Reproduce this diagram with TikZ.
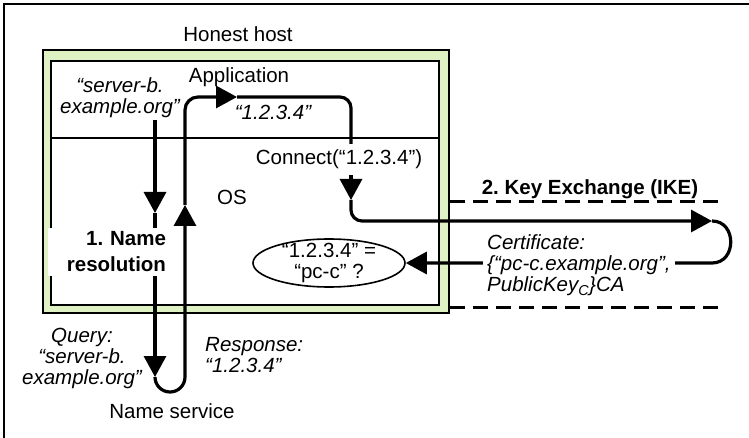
\documentclass[tikz,border=0pt]{standalone}
\usepackage{fontspec}
\setmainfont{Liberation Sans}
\usetikzlibrary{arrows.meta,shapes.geometric}
\pgfdeclarelayer{back}\pgfdeclarelayer{front}\pgfsetlayers{back,main,front}
\definecolor{hostgreen}{RGB}{222,242,196}
\newcommand\dfont{\fontsize{20.5pt}{21pt}\selectfont}
\frenchspacing
\begin{document}
\begin{tikzpicture}[x=1pt,y=-1pt,
  txt/.style={font=\dfont, inner sep=2pt},
  itx/.style={font=\dfont\itshape, inner sep=2pt},
  bld/.style={font=\dfont\bfseries, inner sep=2pt},
  ln/.style={line width=3.2pt, line cap=butt},
  arr/.style={ln, -{Triangle[length=21pt,width=22pt]}},
  dashln/.style={line width=3pt, dash pattern=on 15pt off 8pt},
  boxln/.style={draw, inner sep=0pt, anchor=north west},
]
\useasboundingbox (0,0) rectangle (749,438);
\begin{pgfonlayer}{back}
  \draw[line width=2.5pt] (4,440) -- (4,4) -- (751,4);
  \node[boxln, line width=2.4pt, fill=hostgreen, minimum width=406pt, minimum height=263pt] (host) at (42,49) {};
  \node[boxln, line width=1.6pt, fill=white, minimum width=388pt, minimum height=244pt] (inner) at (50,60) {};
  \coordinate (dv) at (0,138);
  \draw[line width=1.4pt] (inner.west |- dv) -- (inner.east |- dv);
  \coordinate (d1) at (0,202);
  \coordinate (d2) at (0,307);
  \coordinate (dend) at (722,0);
  \draw[dashln] (host.east |- d1) -- (dend |- d1);
  \draw[dashln] (host.east |- d2) -- (dend |- d2);
\end{pgfonlayer}

\begin{pgfonlayer}{front}
  \node[fill=white, text width=114pt, align=right, inner xsep=4pt, inner ysep=4pt,
        font=\fontsize{20.5pt}{25.5pt}\selectfont\bfseries] (nr) at (109,251.6) {1. Name\\resolution};
  \node[itx, fill=white, align=left, anchor=west, inner sep=4pt] (cert) at (483,265.6)
        {Certificate:\\\{“pc-c.example.org”,\\PublicKey\textsubscript{C}\}CA};
\end{pgfonlayer}

\node[txt, anchor=base] (hh) at (238,42) {Honest host};
\node[txt, anchor=base] (app) at (239,83) {Application};
\node[itx, align=center] (srv) at (120,97.6) {“server-b.\\example.org”};
\node[itx, anchor=base] (ip1) at (273,120) {“1.2.3.4”};
\node[txt, anchor=base, inner ysep=6pt] (con) at (339,165) {Connect(“1.2.3.4”)};
\node[txt, anchor=base] (os) at (232,205) {OS};
\node[bld, anchor=base] (ike) at (590,195) {2. Key Exchange (IKE)};
\node[ellipse, draw, line width=1.6pt, minimum width=152pt, minimum height=48pt, inner sep=0pt, font=\fontsize{20.5pt}{20pt}\selectfont] (ell) at (329,263)
  {\raisebox{-6pt}[0pt][0pt]{\begin{tabular}{@{}c@{}}“1.2.3.4” =\\“pc-c” ?\end{tabular}}};
\node[itx, align=center] (qry) at (82,358.7) {Query:\\“server-b.\\example.org”};
\node[itx, align=left, anchor=west] (rsp) at (203,355) {Response:\\“1.2.3.4”};
\node[txt, anchor=base] (ns) at (172,418) {Name service};

\coordinate (qx) at (155,0);
\coordinate (cx) at (351,0);
\coordinate (a1) at (155,213);
\coordinate (a2) at (155,377);
\coordinate (a3) at (185,205);
\coordinate (a4) at (237,97);
\coordinate (b1) at (351,200);
\coordinate (b2) at (712,221);

\draw[arr] (srv.south -| qx) -- (a1);
\draw[arr] (a1) -- (a2);
\draw[arr, rounded corners=15pt] (a2) -- (155,392) -- (185,392) -- (a3);
\draw[arr, rounded corners=13pt] (a3) -- (185,97) -- (a4);
\draw[ln, rounded corners=11pt] (a4) -- (351,97) -- (con.north -| cx);
\draw[arr] (con.south -| cx) -- (b1);
\draw[arr, rounded corners=11pt] (b1) -- (351,221) -- (b2);
\draw[arr] (b2) .. controls (737,221) and (737,263) .. (712,263) -- (ell.east);
\end{tikzpicture}
\end{document}
